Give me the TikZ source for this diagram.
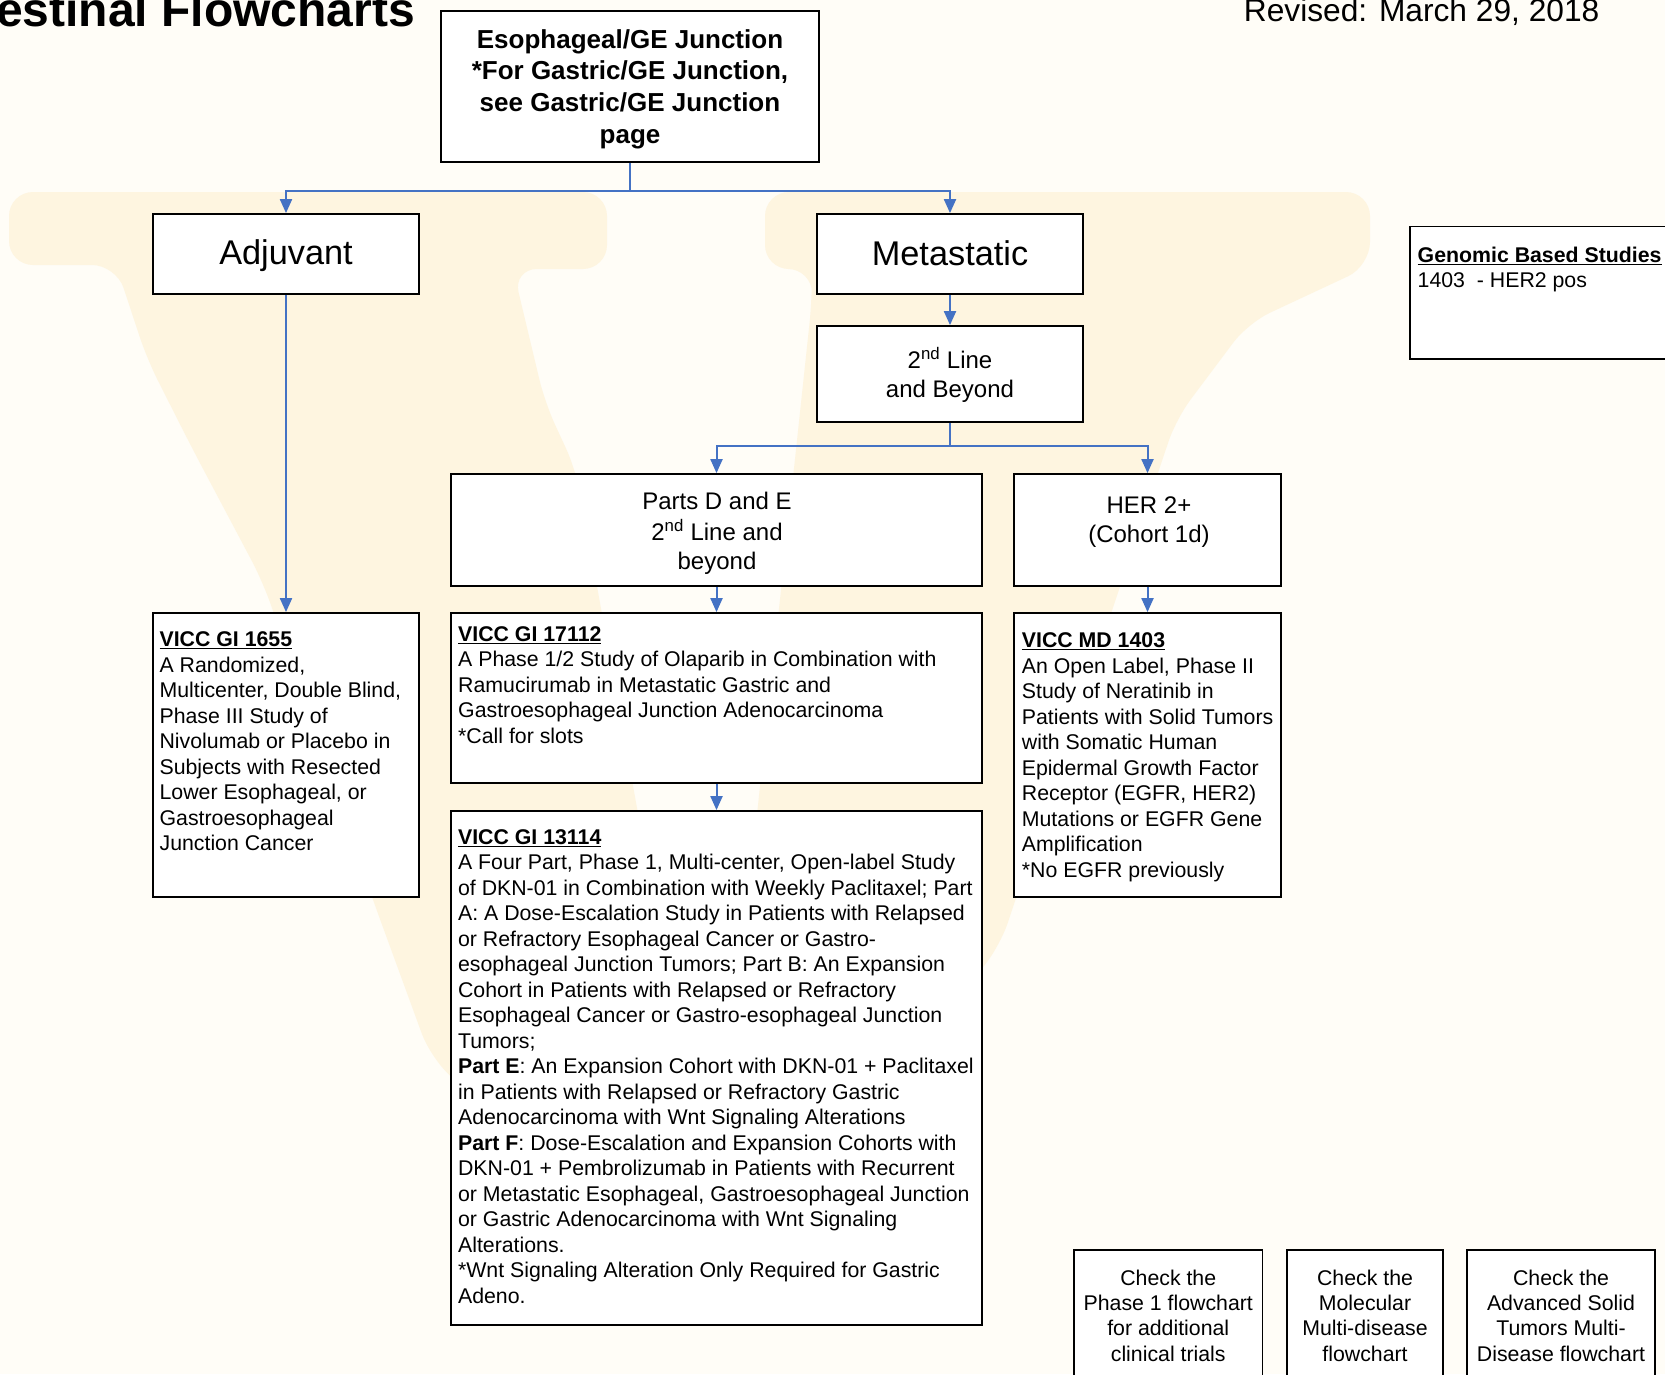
\documentclass[tikz,border=0pt]{standalone}
\usepackage{fontspec}
\setmainfont{Liberation Sans}
\usetikzlibrary{arrows.meta}
\definecolor{bgcream}{HTML}{FFFDF7}
\definecolor{wmyellow}{HTML}{FEF5E0}
\definecolor{arrowblue}{HTML}{4472C4}
\newcommand\bodyfont{\fontsize{21.3}{25.5}\selectfont}
\tikzset{
  box/.style={draw=black, line width=1.8pt, fill=white, inner sep=0pt},
  ctext/.style={inner sep=0pt, align=center, anchor=center},
  ltext/.style={inner sep=0pt, align=left, anchor=north west, font=\bodyfont},
  conn/.style={draw=arrowblue, line width=2pt},
  arr/.style={conn, -{Triangle[length=14pt,width=12pt]}}
}
\begin{document}
\begin{tikzpicture}[x=1pt,y=-1pt]
\useasboundingbox (0,0) rectangle (1665,1374);
\clip (0,0) rectangle (1665,1374);
\fill[bgcream] (0,0) rectangle (1665,1374);
% watermark
\fill[wmyellow, rounded corners=24pt] (9,192) -- (607,192) -- (607,269) -- (513,269) -- (545,403) -- (576,470) -- (650,880) -- (700,1100) -- (750,880) -- (812,300) -- (812,269) -- (765,269) -- (765,192) -- (1370,192) -- (1370,266) -- (1248,323) -- (1176,419) -- (1000,946) -- (700,1320) -- (430,1056) -- (373,900) -- (263,582) -- (192,448) -- (147,359) -- (116,265) -- (9,265) -- cycle;

% header texts
\node[anchor=base east, inner sep=0pt, font=\bfseries\fontsize{48}{56}\selectfont] (title) at (415,26) {estinal Flowcharts};
\node[anchor=base east, inner sep=0pt, font=\fontsize{31.7}{38}\selectfont] (rev) at (1599.5,21.7) {Revised: March 29, 2018};

% boxes
\node[box, minimum width=378pt, minimum height=151pt] (top) at (630,86.5) {};
\node[box, minimum width=266pt, minimum height=80pt] (adj) at (286,254) {};
\node[box, minimum width=266pt, minimum height=80pt] (met) at (950,254) {};
\node[box, minimum width=266pt, minimum height=96pt] (sec) at (950,374) {};
\node[box, minimum width=531pt, minimum height=112pt] (parts) at (716.5,530) {};
\node[box, minimum width=267pt, minimum height=112pt] (her) at (1147.5,530) {};
\node[box, minimum width=266pt, minimum height=284pt] (g1655) at (286,755) {};
\node[box, minimum width=531pt, minimum height=170pt] (g17112) at (716.5,698) {};
\node[box, minimum width=531pt, minimum height=514pt] (g13114) at (716.5,1068) {};
\node[box, minimum width=267pt, minimum height=284pt] (md1403) at (1147.5,755) {};
\node[box, minimum width=280pt, minimum height=132.5pt] (gen) at (1550,292.75) {};
\node[box, minimum width=188.5pt, minimum height=170pt] (chka) at (1168.25,1335) {};
\node[box, minimum width=156pt, minimum height=170pt] (chkb) at (1365,1335) {};
\node[box, minimum width=188pt, minimum height=170pt] (chkc) at (1561,1335) {};

% connectors
\coordinate (j1) at (630,191);
\coordinate (j2) at (950,445.5);
\draw[conn] (top.south) -- (j1);
\draw[arr] (j1) -| (adj.north);
\draw[arr] (j1) -| (met.north);
\draw[arr] (adj.south) -- (g1655.north);
\draw[arr] (met.south) -- (sec.north);
\draw[conn] (sec.south) -- (j2);
\draw[arr] (j2) -| (parts.north);
\draw[arr] (j2) -| (her.north);
\draw[arr] (parts.south) -- (g17112.north);
\draw[arr] (g17112.south) -- (g13114.north);
\draw[arr] (her.south) -- (md1403.north);

% texts in boxes
\node[ctext, font=\bfseries\fontsize{26}{31.7}\selectfont] (top-t) at (630,89.4)
  {\strut Esophageal/GE Junction\\\strut *For Gastric/GE Junction,\\\strut see Gastric/GE Junction\\\strut page};
\node[ctext, font=\fontsize{34.3}{41}\selectfont] (adj-t) at (286,256.6) {\strut Adjuvant};
\node[ctext, font=\fontsize{34.3}{41}\selectfont] (met-t) at (950,257.3) {\strut Metastatic};
\node[ctext, font=\fontsize{24}{28.7}\selectfont] (sec-t) at (950,376.7)
  {\strut 2\textsuperscript{nd} Line\\\strut and Beyond};
\node[ctext, font=\fontsize{24}{29.3}\selectfont] (parts-t) at (717,533.5)
  {\strut Parts D and E\\\strut 2\textsuperscript{nd} Line and\\\strut beyond};
\node[ctext, font=\fontsize{24}{28.7}\selectfont] (her-t) at (1149,522.1)
  {\strut HER 2+\\\strut (Cohort 1d)};

\node[ltext] (gen-t) at (1417.5,244.2)
  {\strut\underline{\textbf{Genomic Based Studies}}\\1403\ \ - HER2 pos};

\node[ltext] (g1655-t) at (159.4,628.9)
  {\strut\underline{\textbf{VICC GI 1655}}\\
   A Randomized,\\
   Multicenter, Double Blind,\\
   Phase III Study of\\
   Nivolumab or Placebo in\\
   Subjects with Resected\\
   Lower Esophageal, or\\
   Gastroesophageal\\
   Junction Cancer};

\node[ltext] (g17112-t) at (458,623.2)
  {\strut\underline{\textbf{VICC GI 17112}}\\
   A Phase 1/2 Study of Olaparib in Combination with\\
   Ramucirumab in Metastatic Gastric and\\
   Gastroesophageal Junction Adenocarcinoma\\
   *Call for slots};

\node[ltext] (g13114-t) at (457.9,826)
  {\strut\underline{\textbf{VICC GI 13114}}\\
   A Four Part, Phase 1, Multi-center, Open-label Study\\
   of DKN-01 in Combination with Weekly Paclitaxel; Part\\
   A: A Dose-Escalation Study in Patients with Relapsed\\
   or Refractory Esophageal Cancer or Gastro-\\
   esophageal Junction Tumors; Part B: An Expansion\\
   Cohort in Patients with Relapsed or Refractory\\
   Esophageal Cancer or Gastro-esophageal Junction\\
   Tumors;\\
   \textbf{Part E}: An Expansion Cohort with DKN-01 + Paclitaxel\\
   in Patients with Relapsed or Refractory Gastric\\
   Adenocarcinoma with Wnt Signaling Alterations\\
   \textbf{Part F}: Dose-Escalation and Expansion Cohorts with\\
   DKN-01 + Pembrolizumab in Patients with Recurrent\\
   or Metastatic Esophageal, Gastroesophageal Junction\\
   or Gastric Adenocarcinoma with Wnt Signaling\\
   Alterations.\\
   *Wnt Signaling Alteration Only Required for Gastric\\
   Adeno.};

\node[ltext] (md1403-t) at (1021.7,629.5)
  {\strut\underline{\textbf{VICC MD 1403}}\\
   An Open Label, Phase II\\
   Study of Neratinib in\\
   Patients with Solid Tumors\\
   with Somatic Human\\
   Epidermal Growth Factor\\
   Receptor (EGFR, HER2)\\
   Mutations or EGFR Gene\\
   Amplification\\
   *No EGFR previously};

\node[ctext, font=\fontsize{21.3}{25.3}\selectfont] (chka-t) at (1168.25,1318)
  {\strut Check the\\\strut Phase 1 flowchart\\\strut for additional\\\strut clinical trials};
\node[ctext, font=\fontsize{21.3}{25.3}\selectfont] (chkb-t) at (1365,1318)
  {\strut Check the\\\strut Molecular\\\strut Multi-disease\\\strut flowchart};
\node[ctext, font=\fontsize{21.3}{25.3}\selectfont] (chkc-t) at (1561,1318)
  {\strut Check the\\\strut Advanced Solid\\\strut Tumors Multi-\\\strut Disease flowchart};
\end{tikzpicture}
\end{document}
